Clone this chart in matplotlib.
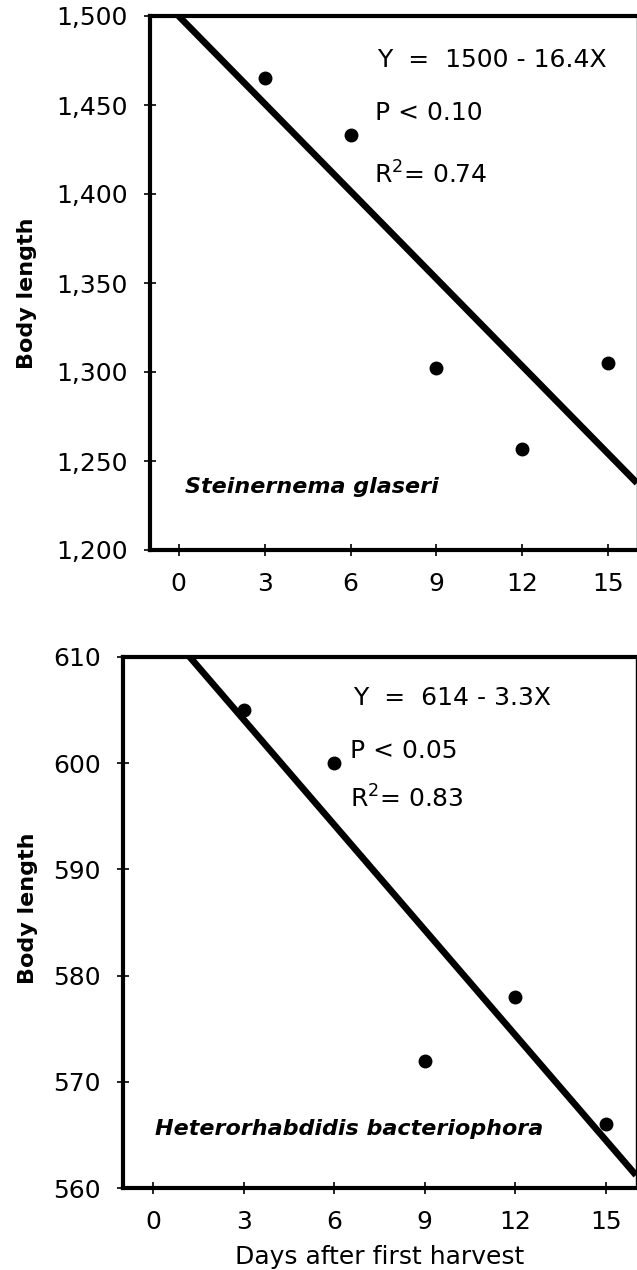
import matplotlib.pyplot as plt
import matplotlib.ticker as mticker
import numpy as np

plt.rcParams['font.family'] = ['DejaVu Sans']
plt.rcParams['mathtext.fontset'] = 'dejavusans'

# data
days = [3, 6, 9, 12, 15]
sg_length = [1465, 1433, 1302, 1257, 1305]   # Steinernema glaseri
hb_length = [605, 600, 572, 578, 566]        # Heterorhabdidis bacteriophora

# regression lines (intercept, slope)
sg_fit = (1500, -16.4)
hb_fit = (614, -3.3)

sg_text = ['Y  =  1500 - 16.4X', 'P < 0.10', 'R$^2$= 0.74']
hb_text = ['Y  =  614 - 3.3X', 'P < 0.05', 'R$^2$= 0.83']

x_ticks = [0, 3, 6, 9, 12, 15]
sg_yticks = [1200, 1250, 1300, 1350, 1400, 1450, 1500]
hb_yticks = [560, 570, 580, 590, 600, 610]

fig = plt.figure(figsize=(6.37, 12.70), dpi=100)
ax1 = fig.add_axes([150/637, 1-550/1270, 487/637, 534/1270])
ax2 = fig.add_axes([123/637, 1-1188/1270, 513/637, 531/1270])


def panel(ax, y, fit, yticks, texts, txt_pos, species, sp_pos, comma):
    xs = np.array([-1, 16])
    ax.plot(xs, fit[0] + fit[1]*xs, color='black', lw=4.8, solid_capstyle='butt')
    ax.plot(days, y, 'o', color='black', ms=9)
    ax.set_xlim(-1, 16)
    ax.set_ylim(yticks[0], yticks[-1])
    ax.set_xticks(x_ticks)
    ax.set_yticks(yticks)
    if comma:
        ax.yaxis.set_major_formatter(mticker.StrMethodFormatter('{x:,.0f}'))
    ax.tick_params(direction='inout', length=8, width=1.2, pad=12,
                   labelsize=18, colors='black')
    for s in ['left', 'top', 'bottom']:
        ax.spines[s].set_linewidth(3)
    ax.spines['right'].set_linewidth(1)
    for t, (tx, ty) in zip(texts, txt_pos):
        ax.text(tx, ty, t, transform=ax.transAxes, fontsize=18, va='baseline')
    ax.text(sp_pos[0], sp_pos[1], species, transform=ax.transAxes, fontsize=16,
            style='italic', fontweight='bold', va='baseline')
    ax.set_ylabel('Body length', fontsize=16, fontweight='bold')


panel(ax1, sg_length, sg_fit, sg_yticks, sg_text,
      [(0.466, 0.904), (0.462, 0.805), (0.460, 0.687)],
      'Steinernema glaseri', (0.072, 0.107), True)
panel(ax2, hb_length, hb_fit, hb_yticks, hb_text,
      [(0.448, 0.910), (0.442, 0.810), (0.442, 0.716)],
      'Heterorhabdidis bacteriophora', (0.062, 0.10), False)

ax1.yaxis.set_label_coords(-0.232, 0.481)
ax2.yaxis.set_label_coords(-0.166, 0.527)
ax2.set_xlabel('Days after first harvest', fontsize=18, labelpad=8)

fig.savefig('out.png', dpi=100)
